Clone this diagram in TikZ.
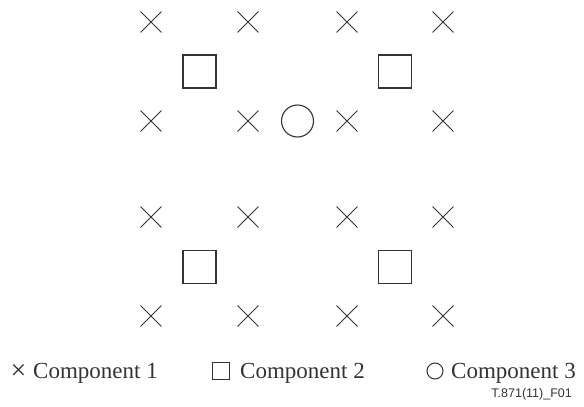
\documentclass[tikz,border=0pt]{standalone}
\usepackage{fontspec}
\setmainfont{Liberation Serif}
\newfontfamily\tagfont{Liberation Sans}
\usetikzlibrary{shapes.misc}
\definecolor{markgray}{HTML}{333333}
\tikzset{
	comp one/.style={draw=markgray, cross out, line width=0.95pt, minimum size=20pt, inner sep=0pt},
	comp two/.style={draw=markgray, rectangle, line width=1.25pt, minimum size=33pt, inner sep=0pt},
	comp three/.style={draw=markgray, circle, line width=1.1pt, minimum size=32pt, inner sep=0pt},
	legend text/.style={anchor=base west, inner sep=0pt, font=\fontsize{23}{26}\selectfont, text=markgray}
}
\begin{document}
\begin{tikzpicture}[x=1pt, y=-1pt]
		\useasboundingbox (0, 0) rectangle (584, 407);

		% Upper block
		\node[comp one] (ua1) at (151, 22) {};
		\node[comp one] (ua2) at (248, 22) {};
		\node[comp one] (ua3) at (347, 22) {};
		\node[comp one] (ua4) at (443, 22) {};
		\node[comp two] (us1) at (199.5, 71.5) {};
		\node[comp two] (us2) at (395, 71.5) {};
		\node[comp one] (ub1) at (151, 121) {};
		\node[comp one] (ub2) at (248, 121) {};
		\node[comp three] (uc) at (297.5, 121) {};
		\node[comp one] (ub3) at (347, 121) {};
		\node[comp one] (ub4) at (443, 121) {};

		% Lower block
		\node[comp one] (la1) at (151, 217) {};
		\node[comp one] (la2) at (248, 217) {};
		\node[comp one] (la3) at (347, 217) {};
		\node[comp one] (la4) at (443, 217) {};
		\node[comp two] (ls1) at (199.5, 267) {};
		\node[comp two] (ls2) at (395, 267) {};
		\node[comp one] (lb1) at (151, 316) {};
		\node[comp one] (lb2) at (248, 316) {};
		\node[comp one] (lb3) at (347, 316) {};
		\node[comp one] (lb4) at (443, 316) {};

		% Legend
		\node[legend text, font=\fontsize{28}{30}\selectfont] (keyone) at (10.5, 379) {×};
		\node[legend text] (txtone) at (33, 378) {Component 1};
		\node[draw=markgray, rectangle, line width=1pt, minimum size=17pt, inner sep=0pt] (keytwo) at (221, 370.5) {};
		\node[legend text] (txttwo) at (240, 378) {Component 2};
		\node[draw=markgray, circle, line width=1pt, minimum size=16pt, inner sep=0pt] (keythree) at (435, 371) {};
		\node[legend text] (txtthree) at (451, 378) {Component 3};

		\node[anchor=base east, inner sep=0pt, font=\tagfont\fontsize{12.5}{14}\selectfont, text=markgray] (tag) at (572, 397) {T.871(11)\_F01};
	\end{tikzpicture}
\end{document}
